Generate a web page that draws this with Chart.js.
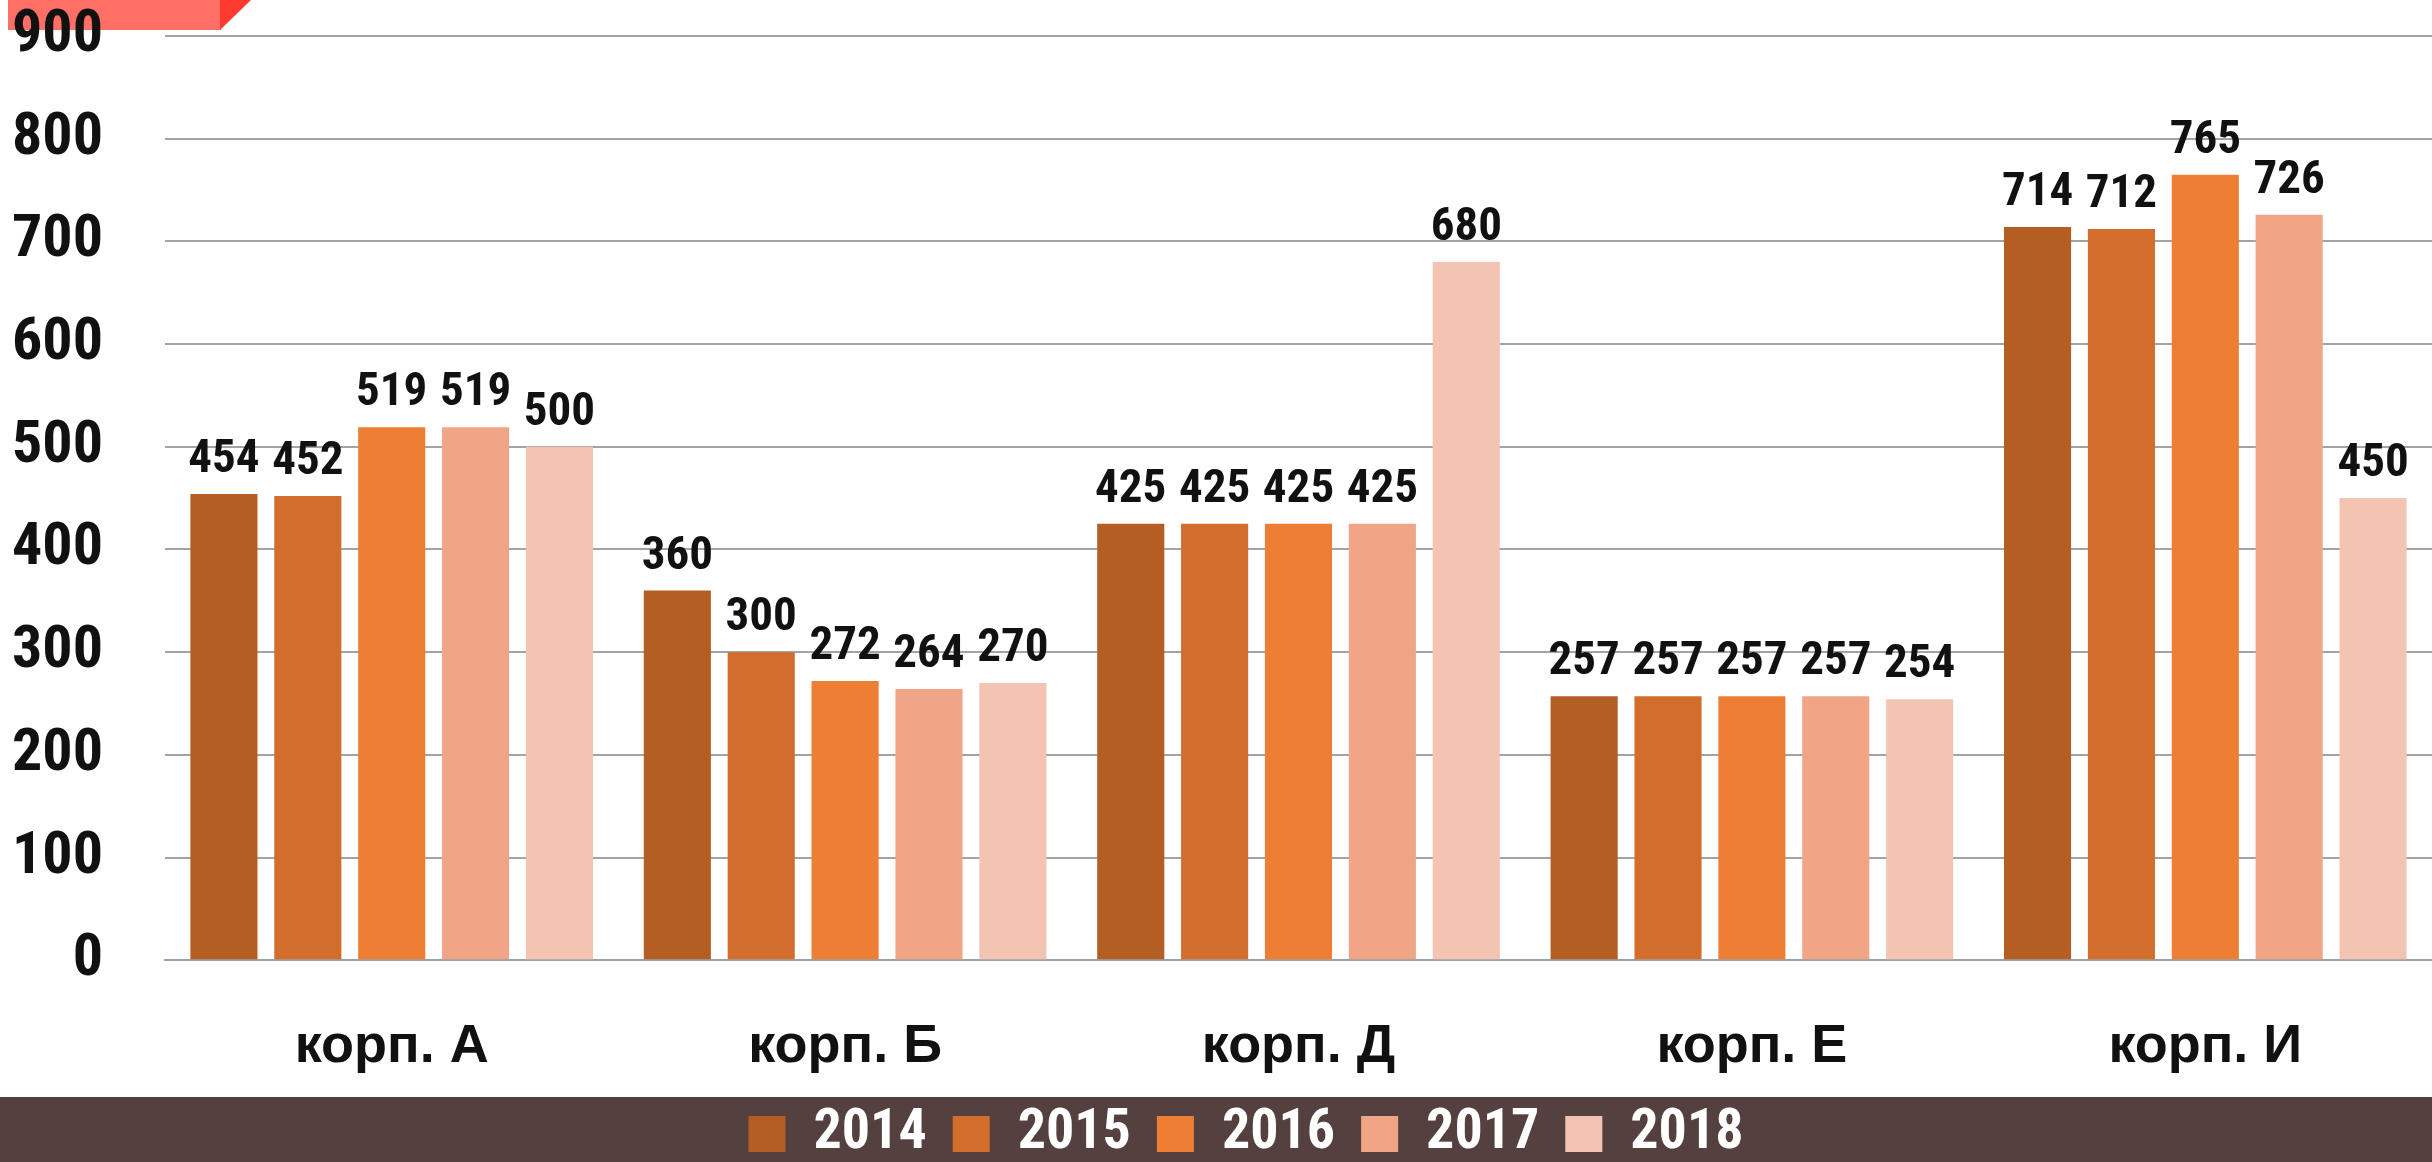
<!DOCTYPE html>
<html lang="ru">
<head>
    <meta charset="UTF-8">
    <title>корп. 2014-2018</title>
    <script src="https://cdn.jsdelivr.net/npm/chart.js"></script>
    <style>
        body {
            margin: 0;
            background-color: #ffffff;
        }

        .chart-box {
            width: 2432px;
            height: 1162px;
        }
    </style>
</head>
<body>
    <div class="chart-box">
        <canvas id="barChart"></canvas>
    </div>

    <script>
        const categories = ['корп. А', 'корп. Б', 'корп. Д', 'корп. Е', 'корп. И'];
        const years = ['2014', '2015', '2016', '2017', '2018'];
        const values2014 = [454, 360, 425, 257, 714];
        const values2015 = [452, 300, 425, 257, 712];
        const values2016 = [519, 272, 425, 257, 765];
        const values2017 = [519, 264, 425, 257, 726];
        const values2018 = [500, 270, 680, 254, 450];
        const yTicks = [0, 100, 200, 300, 400, 500, 600, 700, 800, 900];

        const colors = ['#b45e24', '#d36d2b', '#ee7e33', '#f0a587', '#f4c4b3'];
        const narrow = '"Roboto Condensed", "Open Sans", sans-serif';

        // red tab top-left and dark legend band
        const decor = {
            id: 'decor',
            afterLayout(chart) {
                // legend sits a little right of centre in the original
                chart.legend.left += 30;
                chart.legend.right += 30;
            },
            beforeDraw(chart) {
                const ctx = chart.ctx;
                ctx.save();
                ctx.fillStyle = '#ff6f66';
                ctx.fillRect(8, 0, 213, 30);
                ctx.fillStyle = '#ff3b30';
                ctx.beginPath();
                ctx.moveTo(220, 0);
                ctx.lineTo(251, 0);
                ctx.lineTo(220, 30);
                ctx.closePath();
                ctx.fill();
                ctx.fillStyle = '#54413f';
                ctx.fillRect(0, chart.height - 65, chart.width, 65);
                ctx.restore();
            }
        };

        // value labels above the bars
        const valueLabels = {
            id: 'valueLabels',
            afterDatasetsDraw(chart) {
                const ctx = chart.ctx;
                ctx.save();
                ctx.font = 'bold 47px ' + narrow;
                ctx.fillStyle = '#111111';
                ctx.textAlign = 'center';
                ctx.textBaseline = 'alphabetic';
                chart.data.datasets.forEach((ds, i) => {
                    chart.getDatasetMeta(i).data.forEach((bar, j) => {
                        ctx.fillText(ds.data[j], bar.x, bar.y - 22);
                    });
                });
                ctx.restore();
            }
        };

        const seriesValues = [values2014, values2015, values2016, values2017, values2018];

        new Chart(document.getElementById('barChart'), {
            type: 'bar',
            data: {
                labels: categories,
                datasets: years.map((y, i) => ({
                    label: y,
                    data: seriesValues[i],
                    backgroundColor: colors[i],
                    borderWidth: 0,
                    barPercentage: 0.8,
                    categoryPercentage: 0.925
                }))
            },
            options: {
                responsive: true,
                maintainAspectRatio: false,
                animation: false,
                layout: {
                    padding: { top: 0, right: 0, bottom: -10, left: 0 }
                },
                plugins: {
                    tooltip: { enabled: false },
                    legend: {
                        position: 'bottom',
                        labels: {
                            color: '#ffffff',
                            font: { family: narrow, size: 56, weight: 'bold' },
                            boxWidth: 37,
                            boxHeight: 36,
                            padding: 26
                        }
                    }
                },
                scales: {
                    x: {
                        grid: { display: false, drawTicks: true, tickLength: 55, tickColor: 'rgba(0,0,0,0)' },
                        border: { display: true, color: '#98a2ab', width: 2 },
                        ticks: {
                            color: '#111111',
                            padding: 0,
                            font: { family: '"Liberation Sans", Arial, sans-serif', size: 54, weight: 'bold' }
                        }
                    },
                    y: {
                        min: 0,
                        max: 900,
                        afterBuildTicks(scale) {
                            scale.ticks = yTicks.map(v => ({ value: v }));
                        },
                        afterFit(scale) {
                            scale.width = 165;
                        },
                        grid: { color: '#a3a3a3', lineWidth: 2, drawTicks: true, tickLength: 62, tickColor: 'rgba(0,0,0,0)' },
                        border: { display: false },
                        ticks: {
                            color: '#111111',
                            padding: 0,
                            font: { family: narrow, size: 60, weight: 'bold' }
                        }
                    }
                }
            },
            plugins: [decor, valueLabels]
        });
    </script>
</body>
</html>
